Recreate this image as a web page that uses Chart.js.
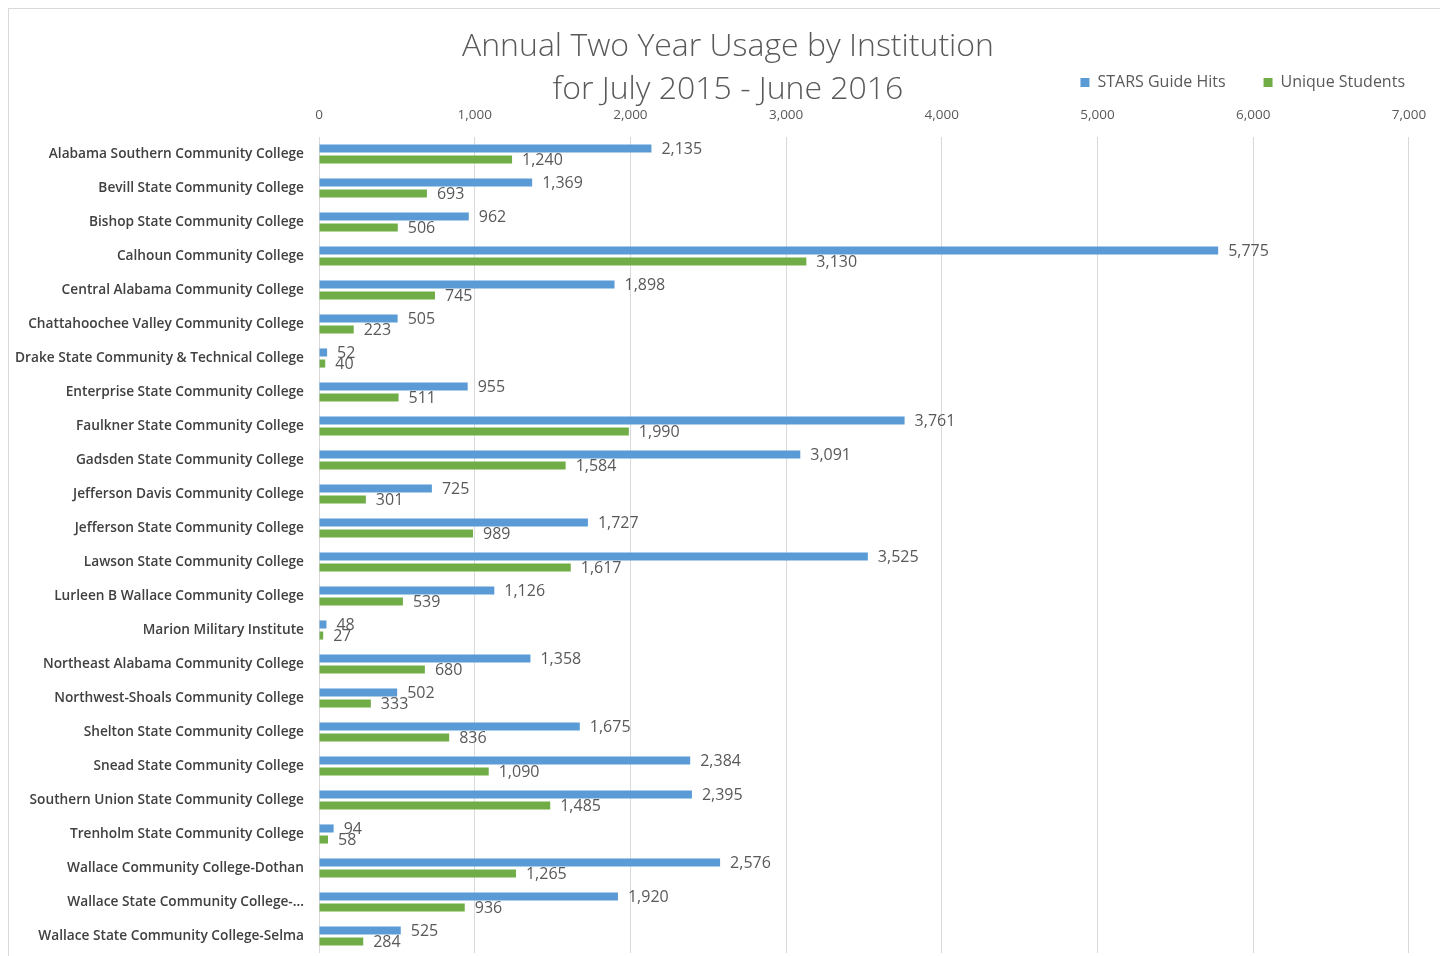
<!DOCTYPE html>
<html>
<head>
<meta charset="utf-8">
<title>Annual Two Year Usage by Institution</title>
<script src="https://cdn.jsdelivr.net/npm/chart.js@4.4.1/dist/chart.umd.min.js"></script>
<style>
	html, body { margin: 0; padding: 0; background: #fff; }
	canvas { display: block; }
</style>
</head>
<body>
<canvas id="chart" width="1440" height="956"></canvas>
<script>
const institutions = [
	'Alabama Southern Community College',
	'Bevill State Community College',
	'Bishop State Community College',
	'Calhoun Community College',
	'Central Alabama Community College',
	'Chattahoochee Valley Community College',
	'Drake State Community & Technical College',
	'Enterprise State Community College',
	'Faulkner State Community College',
	'Gadsden State Community College',
	'Jefferson Davis Community College',
	'Jefferson State Community College',
	'Lawson State Community College',
	'Lurleen B Wallace Community College',
	'Marion Military Institute',
	'Northeast Alabama Community College',
	'Northwest-Shoals Community College',
	'Shelton State Community College',
	'Snead State Community College',
	'Southern Union State Community College',
	'Trenholm State Community College',
	'Wallace Community College-Dothan',
	'Wallace State Community College-...',
	'Wallace State Community College-Selma',
]

const guideHits = [2135, 1369, 962, 5775, 1898, 505, 52, 955, 3761, 3091, 725, 1727, 3525, 1126, 48, 1358, 502, 1675, 2384, 2395, 94, 2576, 1920, 525]
const uniqueStudents = [1240, 693, 506, 3130, 745, 223, 40, 511, 1990, 1584, 301, 989, 1617, 539, 27, 680, 333, 836, 1090, 1485, 58, 1265, 936, 284]

const xTickValues = [0, 1000, 2000, 3000, 4000, 5000, 6000, 7000]

const titleLines = ['Annual Two Year Usage by Institution', 'for July 2015 - June 2016']

const FONT = '"Open Sans", "DejaVu Sans", sans-serif'
const TEXT_GREY = '#595959'

const fmt = value => Number(value).toLocaleString('en-US')

// White background plus the thin frame round the chart object.
const frame = {
	id: 'frame',
	beforeDraw(chart) {
		const { ctx } = chart
		ctx.save()
		ctx.fillStyle = '#fff'
		ctx.fillRect(0, 0, chart.width, chart.height)
		ctx.strokeStyle = '#d9d9d9'
		ctx.lineWidth = 1
		ctx.strokeRect(8.5, 8.5, chart.width + 20, chart.height + 20)
		ctx.restore()
	},
}

// Title and legend share a row in the original, so nudge them after layout.
const placeBlocks = {
	id: 'placeBlocks',
	afterLayout(chart) {
		const legend = chart.legend
		if (legend) {
			const h = legend.bottom - legend.top
			legend.top = 36.5
			legend.bottom = legend.top + h
			legend.left += 31
			legend.right += 31
		}
		const title = chart.titleBlock
		if (title) {
			title.left += 18
			title.right += 18
		}
	},
}

// Value labels at the end of every bar.
const valueLabels = {
	id: 'valueLabels',
	afterDatasetsDraw(chart) {
		const { ctx } = chart
		ctx.save()
		ctx.font = `16px ${FONT}`
		ctx.fillStyle = TEXT_GREY
		ctx.textBaseline = 'middle'
		ctx.textAlign = 'left'
		chart.data.datasets.forEach((dataset, i) => {
			chart.getDatasetMeta(i).data.forEach((bar, j) => {
				ctx.fillText(fmt(dataset.data[j]), bar.x + 10, bar.y + 1)
			})
		})
		ctx.restore()
	},
}

const chart = new Chart(document.getElementById('chart'), {
	type: 'bar',
	data: {
		labels: institutions,
		datasets: [
			{
				label: 'STARS Guide Hits',
				data: guideHits,
				backgroundColor: '#5b9bd5',
			},
			{
				label: 'Unique Students',
				data: uniqueStudents,
				backgroundColor: '#70ad47',
			},
		],
	},
	options: {
		indexAxis: 'y',
		responsive: false,
		animation: false,
		devicePixelRatio: 1,
		categoryPercentage: 0.65,
		barPercentage: 0.73,
		layout: {
			padding: { top: 0, left: 8, right: 28, bottom: 3 },
		},
		scales: {
			x: {
				position: 'top',
				min: 0,
				max: 7000,
				afterBuildTicks: scale => {
					scale.ticks = xTickValues.map(value => ({ value }))
				},
				ticks: {
					padding: 13.9,
					color: TEXT_GREY,
					font: { family: FONT, size: 13.5 },
					callback: value => fmt(value),
				},
				grid: {
					color: '#d9d9d9',
					drawTicks: false,
				},
				border: { display: false },
			},
			y: {
				afterFit: scale => {
					scale.width = 311
				},
				ticks: {
					padding: 0,
					color: '#404040',
					font: { family: FONT, size: 13.7, weight: '600', lineHeight: 0.4 },
					autoSkip: false,
				},
				grid: { display: false, drawTicks: true, tickLength: 15 },
				border: { display: false },
			},
		},
		plugins: {
			title: {
				display: true,
				text: titleLines,
				color: TEXT_GREY,
				font: { family: FONT, size: 32, weight: '300', lineHeight: 43 / 32 },
				padding: { top: 25.5, bottom: -82.5 },
			},
			legend: {
				position: 'top',
				align: 'end',
				labels: {
					boxWidth: 9,
					boxHeight: 9,
					padding: 38,
					color: TEXT_GREY,
					font: { family: FONT, size: 16 },
				},
			},
			tooltip: { enabled: false },
		},
	},
	plugins: [frame, placeBlocks, valueLabels],
})
</script>
</body>
</html>
